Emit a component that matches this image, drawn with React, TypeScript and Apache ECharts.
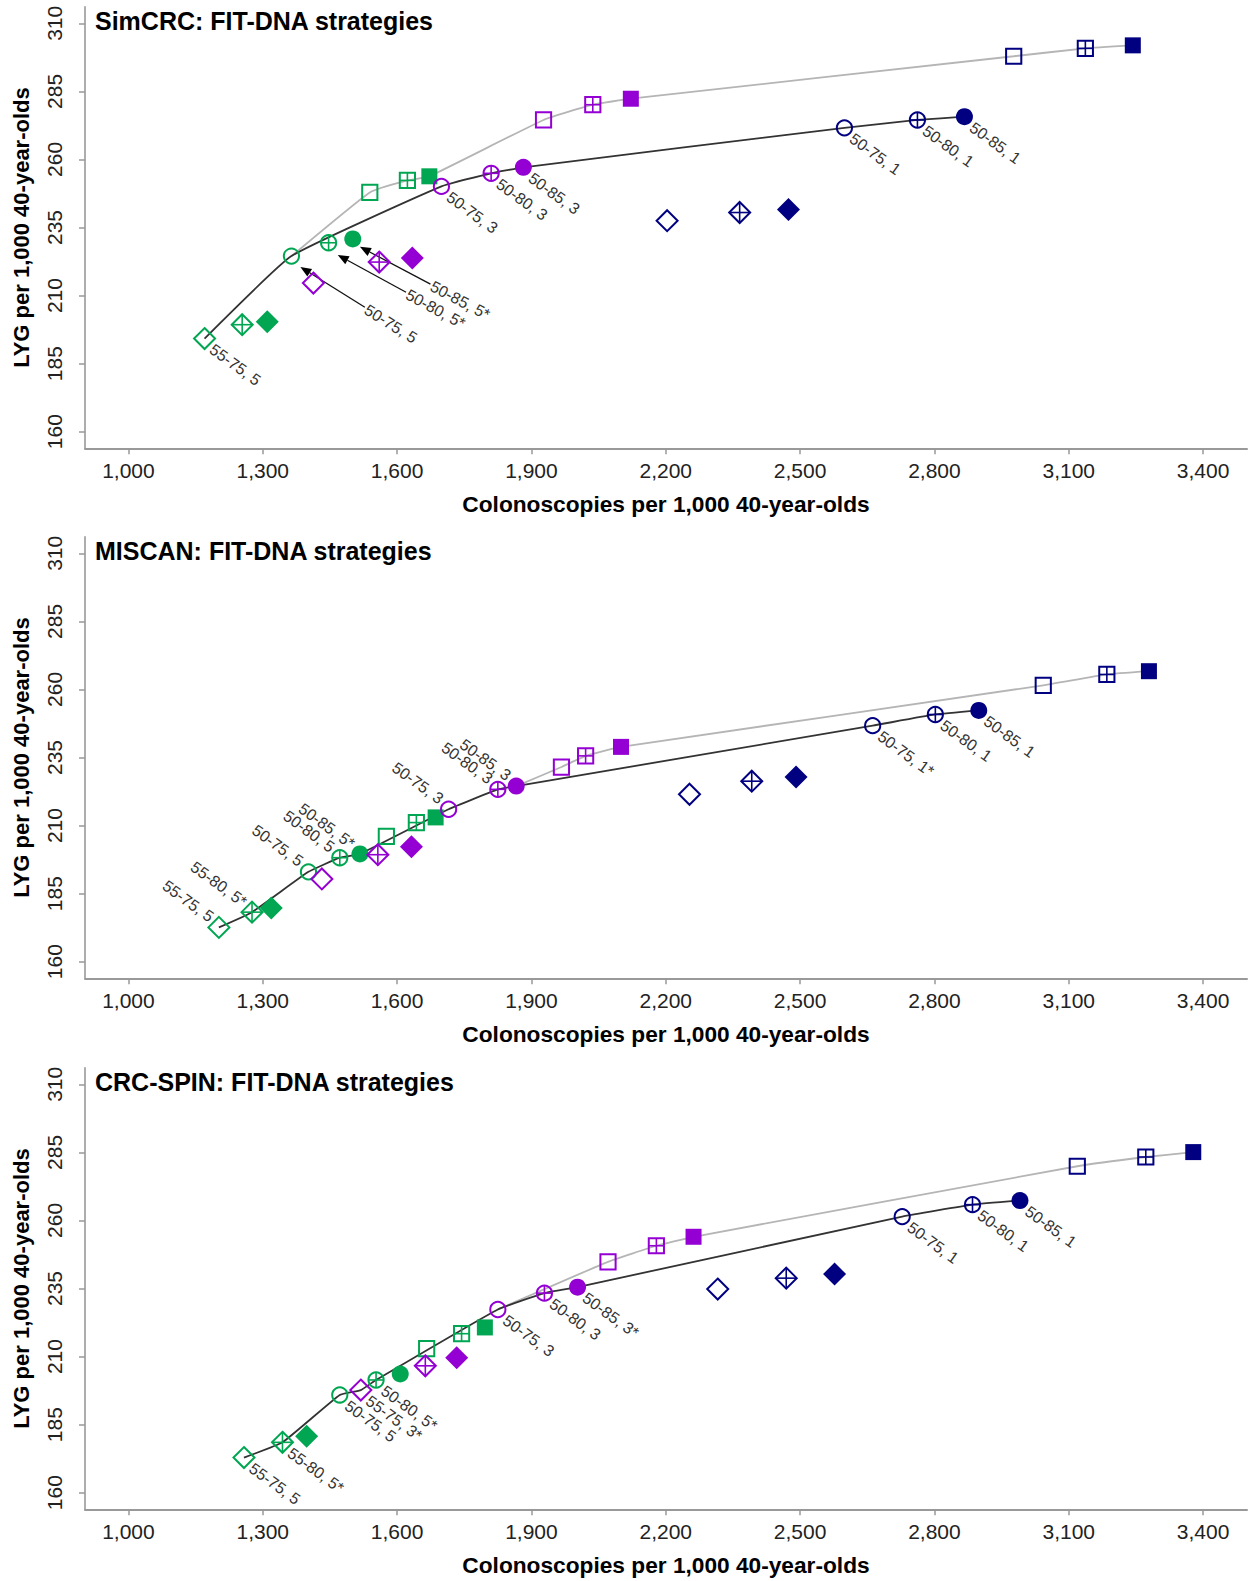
import React, { useEffect, useRef } from "react";
import * as echarts from "echarts";

const FONT = "'Liberation Sans', Arial, Helvetica, sans-serif";

const xTickValues = [1000, 1300, 1600, 1900, 2200, 2500, 2800, 3100, 3400];
const yTickValues = [160, 185, 210, 235, 260, 285, 310];
const xAxisTitle = "Colonoscopies per 1,000 40-year-olds";
const yAxisTitle = "LYG per 1,000 40-year-olds";
const panelTitles = [
  "SimCRC: FIT-DNA strategies",
  "MISCAN: FIT-DNA strategies",
  "CRC-SPIN: FIT-DNA strategies",
];

// Marker order inside every list:
// 0 open circle, 1 circle with cross, 2 filled circle,
// 3 open square, 4 square with cross, 5 filled square,
// 6 open diamond, 7 diamond with cross, 8 filled diamond
// [colonoscopies, LYG]
const simcrcInt5 = [[1364, 224.5], [1447, 229.4], [1501, 230.8], [1539, 247.9], [1623, 252.3], [1672, 253.8], [1170, 194.2], [1254, 199.3], [1310, 200.4]];
const simcrcInt3 = [[1699, 250.1], [1810, 254.9], [1882, 257.1], [1927, 274.5], [2037, 280.1], [2122, 282.3], [1413, 214.6], [1560, 222.3], [1634, 223.8]];
const simcrcInt1 = [[2599, 271.6], [2762, 274.5], [2867, 275.7], [2977, 297.9], [3137, 300.8], [3243, 301.9], [2203, 237.5], [2365, 240.5], [2474, 241.6]];

const miscanInt5 = [[1402, 193.0], [1472, 198.2], [1517, 199.6], [1576, 206.0], [1643, 211.1], [1686, 213.0], [1202, 172.6], [1276, 178.2], [1319, 179.7]];
const miscanInt3 = [[1715, 216.0], [1825, 223.3], [1866, 224.5], [1967, 231.5], [2021, 235.6], [2100, 238.9], [1432, 190.4], [1557, 199.3], [1632, 202.2]];
const miscanInt1 = [[2662, 246.7], [2802, 250.8], [2899, 252.3], [3043, 261.5], [3185, 265.5], [3279, 266.7], [2253, 221.5], [2392, 226.3], [2491, 227.8]];

const crcspinInt5 = [[1472, 195.9], [1553, 201.4], [1607, 203.6], [1666, 212.9], [1744, 218.4], [1796, 220.7], [1258, 172.9], [1344, 178.5], [1398, 180.7]];
const crcspinInt3 = [[1825, 227.3], [1929, 233.3], [2003, 235.5], [2071, 244.8], [2179, 250.7], [2262, 254.0], [1519, 197.7], [1663, 206.6], [1733, 209.6]];
const crcspinInt1 = [[2728, 261.4], [2885, 265.8], [2991, 267.3], [3119, 279.9], [3272, 283.3], [3378, 285.1], [2316, 234.8], [2469, 238.8], [2577, 240.3]];

// labels: [group (0 = 5-yr, 1 = 3-yr, 2 = 1-yr), marker, text, side]
const simcrcLabels = [
  [0, 6, "55-75, 5", "br"],
  [1, 0, "50-75, 3", "br"], [1, 1, "50-80, 3", "br"], [1, 2, "50-85, 3", "br"],
  [2, 0, "50-75, 1", "br"], [2, 1, "50-80, 1", "br"], [2, 2, "50-85, 1", "br"],
];
const miscanLabels = [
  [0, 6, "55-75, 5", "tl"], [0, 7, "55-80, 5*", "tl"],
  [0, 0, "50-75, 5", "tl"], [0, 1, "50-80, 5", "tl"], [0, 2, "50-85, 5*", "tl"],
  [1, 0, "50-75, 3", "tl"], [1, 1, "50-80, 3", "tl"], [1, 2, "50-85, 3", "tl"],
  [2, 0, "50-75, 1*", "br"], [2, 1, "50-80, 1", "br"], [2, 2, "50-85, 1", "br"],
];
const crcspinLabels = [
  [0, 6, "55-75, 5", "br"], [0, 7, "55-80, 5*", "br"], [0, 0, "50-75, 5", "br"],
  [1, 6, "55-75, 3*", "br"], [0, 1, "50-80, 5*", "br"],
  [1, 0, "50-75, 3", "br"], [1, 1, "50-80, 3", "br"], [1, 2, "50-85, 3*", "br"],
  [2, 0, "50-75, 1", "br"], [2, 1, "50-80, 1", "br"], [2, 2, "50-85, 1", "br"],
];

// arrows (SimCRC): tip and tail in data units, with texts
const simcrcArrowTips = [[1384, 220.5], [1467.5, 224.9], [1517, 227.9]];
const simcrcArrowTails = [[1528, 205.7], [1620, 211.2], [1674.5, 214.2]];
const simcrcArrowTexts = ["50-75, 5", "50-80, 5*", "50-85, 5*"];

// efficient frontiers as [group, marker]
const simcrcBlack = [[0, 6], [0, 0], [1, 0], [1, 1], [1, 2], [2, 0], [2, 1], [2, 2]];
const simcrcGray = [[0, 0], [0, 3], [0, 4], [0, 5], [1, 3], [1, 4], [1, 5], [2, 3], [2, 4], [2, 5]];
const miscanBlack = [[0, 6], [0, 7], [0, 0], [0, 1], [0, 2], [1, 0], [1, 1], [1, 2], [2, 0], [2, 1], [2, 2]];
const miscanGray = [[1, 2], [1, 3], [1, 4], [1, 5], [2, 3], [2, 4], [2, 5]];
const crcspinBlack = [[0, 6], [0, 7], [0, 0], [1, 6], [0, 1], [1, 0], [1, 1], [1, 2], [2, 0], [2, 1], [2, 2]];
const crcspinGray = [[1, 0], [1, 3], [1, 4], [1, 5], [2, 3], [2, 4], [2, 5]];

const GROUP_COLORS = ["#00a651", "#9400d3", "#000080"];

const panels = [
  { title: panelTitles[0], pts: [simcrcInt5, simcrcInt3, simcrcInt1], labels: simcrcLabels, black: simcrcBlack, gray: simcrcGray, arrows: true },
  { title: panelTitles[1], pts: [miscanInt5, miscanInt3, miscanInt1], labels: miscanLabels, black: miscanBlack, gray: miscanGray, arrows: false },
  { title: panelTitles[2], pts: [crcspinInt5, crcspinInt3, crcspinInt1], labels: crcspinLabels, black: crcspinBlack, gray: crcspinGray, arrows: false },
];

const OFFSETS = [0, 530, 1061];
const GRID_LEFT = 85;
const GRID_WIDTH = 1162;
const GRID_TOP = 6.7;
const GRID_HEIGHT = 441.6;
const LABEL_ROT = (-36 * Math.PI) / 180;
const LABEL_SIZE = 16;

function seg(x1: number, y1: number, x2: number, y2: number, c: string) {
  return { type: "line", shape: { x1, y1, x2, y2 }, style: { stroke: c, lineWidth: 1.6 } };
}

function markerEls(mi: number, cx: number, cy: number, c: string) {
  const els: any[] = [];
  const lw = 2;
  if (mi <= 2) {
    if (mi === 2) {
      els.push({ type: "circle", shape: { cx, cy, r: 8.5 }, style: { fill: c } });
    } else {
      const r = 7.6;
      els.push({ type: "circle", shape: { cx, cy, r }, style: { fill: "none", stroke: c, lineWidth: lw } });
      if (mi === 1) {
        els.push(seg(cx - r, cy, cx + r, cy, c));
        els.push(seg(cx, cy - r, cx, cy + r, c));
      }
    }
  } else if (mi <= 5) {
    if (mi === 5) {
      els.push({ type: "rect", shape: { x: cx - 8, y: cy - 8, width: 16, height: 16 }, style: { fill: c } });
    } else {
      const h = 7.6;
      els.push({ type: "rect", shape: { x: cx - h, y: cy - h, width: 2 * h, height: 2 * h }, style: { fill: "none", stroke: c, lineWidth: lw } });
      if (mi === 4) {
        els.push(seg(cx - h, cy, cx + h, cy, c));
        els.push(seg(cx, cy - h, cx, cy + h, c));
      }
    }
  } else {
    if (mi === 8) {
      const h = 11.5;
      els.push({ type: "polygon", shape: { points: [[cx, cy - h], [cx + h, cy], [cx, cy + h], [cx - h, cy]] }, style: { fill: c } });
    } else {
      const h = 10.5;
      els.push({ type: "polygon", shape: { points: [[cx, cy - h], [cx + h, cy], [cx, cy + h], [cx - h, cy]] }, style: { fill: "none", stroke: c, lineWidth: lw } });
      if (mi === 7) {
        els.push(seg(cx - h, cy, cx + h, cy, c));
        els.push(seg(cx, cy - h, cx, cy + h, c));
      }
    }
  }
  return els;
}

function buildOption() {
  const grid: any[] = [];
  const xAxis: any[] = [];
  const yAxis: any[] = [];
  const series: any[] = [];
  const graphic: any[] = [];

  panels.forEach((p, i) => {
    grid.push({ left: GRID_LEFT, top: OFFSETS[i] + GRID_TOP, width: GRID_WIDTH, height: GRID_HEIGHT, outerBoundsMode: "none", containLabel: false });
    xAxis.push({
      gridIndex: i,
      type: "value",
      min: 903,
      max: 3498,
      name: xAxisTitle,
      nameLocation: "middle",
      nameGap: 44,
      nameMoveOverlap: false,
      nameTextStyle: { fontSize: 22.7, fontWeight: "bold", color: "#000", fontFamily: FONT },
      axisLine: { show: true, onZero: false, lineStyle: { color: "#999", width: 2 } },
      axisTick: { show: true, customValues: xTickValues, length: 6, lineStyle: { color: "#999", width: 1.5 } },
      axisLabel: {
        customValues: xTickValues,
        formatter: (v: number) => v.toLocaleString("en-US"),
        fontSize: 21,
        color: "#222",
        margin: 12,
        fontFamily: FONT,
      },
      splitLine: { show: false },
    });
    yAxis.push({
      gridIndex: i,
      type: "value",
      min: 153.9,
      max: 316.1,
      name: yAxisTitle,
      nameLocation: "middle",
      nameGap: 53,
      nameRotate: 90,
      nameMoveOverlap: false,
      nameTextStyle: { fontSize: 22, fontWeight: "bold", color: "#000", fontFamily: FONT },
      axisLine: { show: true, onZero: false, lineStyle: { color: "#999", width: 1.6 } },
      axisTick: { show: true, customValues: yTickValues, length: 6, lineStyle: { color: "#999", width: 1.5 } },
      axisLabel: { customValues: yTickValues, rotate: 90, fontSize: 21, color: "#222", margin: 20, fontFamily: FONT },
      splitLine: { show: false },
    });

    const lookup = (g: number, m: number) => p.pts[g][m];

    series.push({
      type: "line",
      xAxisIndex: i,
      yAxisIndex: i,
      data: p.gray.map(([g, m]) => lookup(g, m)),
      smooth: 0.12,
      symbol: "none",
      lineStyle: { color: "#b5b5b5", width: 1.8 },
      z: 1,
      silent: true,
    });
    series.push({
      type: "line",
      xAxisIndex: i,
      yAxisIndex: i,
      data: p.black.map(([g, m]) => lookup(g, m)),
      smooth: 0.12,
      symbol: "none",
      lineStyle: { color: "#333", width: 1.8 },
      z: 2,
      silent: true,
    });

    if (p.arrows) {
      const arrowData = simcrcArrowTips.map((t, k) => [t[0], t[1], simcrcArrowTails[k][0], simcrcArrowTails[k][1], k]);
      series.push({
        type: "custom",
        xAxisIndex: i,
        yAxisIndex: i,
        clip: false,
        z: 3,
        silent: true,
        encode: { x: 0, y: 1 },
        data: arrowData,
        renderItem: (params: any, api: any) => {
          const tip = api.coord([api.value(0), api.value(1)]);
          const tail = api.coord([api.value(2), api.value(3)]);
          const k = api.value(4);
          const dx = tip[0] - tail[0];
          const dy = tip[1] - tail[1];
          const len = Math.hypot(dx, dy);
          const ux = dx / len;
          const uy = dy / len;
          const hl = 11;
          const hw = 4.5;
          const bx = tip[0] - ux * hl;
          const by = tip[1] - uy * hl;
          const px = -uy;
          const py = ux;
          const rot = -Math.atan2(-uy, -ux);
          return {
            type: "group",
            children: [
              { type: "line", shape: { x1: tail[0], y1: tail[1], x2: bx, y2: by }, style: { stroke: "#111", lineWidth: 1.3 } },
              { type: "polygon", shape: { points: [[tip[0], tip[1]], [bx + px * hw, by + py * hw], [bx - px * hw, by - py * hw]] }, style: { fill: "#000" } },
              {
                type: "text",
                x: tail[0] + 1,
                y: tail[1] + 1,
                rotation: rot,
                style: { text: simcrcArrowTexts[k], fontSize: LABEL_SIZE, fontFamily: FONT, fill: "#333", align: "left", verticalAlign: "middle" },
              },
            ],
          };
        },
      });
    }

    const markerData: any[] = [];
    p.pts.forEach((arr, g) => arr.forEach((pt, m) => markerData.push([pt[0], pt[1], g, m])));
    series.push({
      type: "custom",
      xAxisIndex: i,
      yAxisIndex: i,
      clip: false,
      z: 4,
      silent: true,
      encode: { x: 0, y: 1 },
      data: markerData,
      renderItem: (params: any, api: any) => {
        const c = api.coord([api.value(0), api.value(1)]);
        const g = api.value(2);
        const m = api.value(3);
        const children = markerEls(m, c[0], c[1], GROUP_COLORS[g]);
        const lab = p.labels.find((l) => l[0] === g && l[1] === m);
        if (lab) {
          const br = lab[3] === "br";
          children.push({
            type: "text",
            x: c[0] + (br ? 7 : -7),
            y: c[1] + (br ? 9 : -9),
            rotation: LABEL_ROT,
            style: {
              text: lab[2],
              fontSize: LABEL_SIZE,
              fontFamily: FONT,
              fill: "#333",
              align: br ? "left" : "right",
              verticalAlign: "middle",
            },
          });
        }
        return { type: "group", children };
      },
    });

    graphic.push({
      type: "text",
      left: 95,
      top: OFFSETS[i] + 8,
      z: 10,
      style: { text: p.title, fill: "#000", fontSize: 25, fontWeight: "bold", fontFamily: FONT },
    });
  });

  return {
    animation: false,
    backgroundColor: "#fff",
    textStyle: { fontFamily: FONT },
    grid,
    xAxis,
    yAxis,
    series,
    graphic,
  };
}

export default function App() {
  const ref = useRef<HTMLDivElement>(null);
  useEffect(() => {
    if (!ref.current) return;
    const chart = echarts.init(ref.current, undefined, { renderer: "svg" });
    chart.setOption(buildOption() as any);
    return () => chart.dispose();
  }, []);
  return (
    <div
      ref={ref}
      style={{ position: "absolute", left: 0, top: 0, width: 1248, height: 1581, background: "#fff" }}
    />
  );
}
